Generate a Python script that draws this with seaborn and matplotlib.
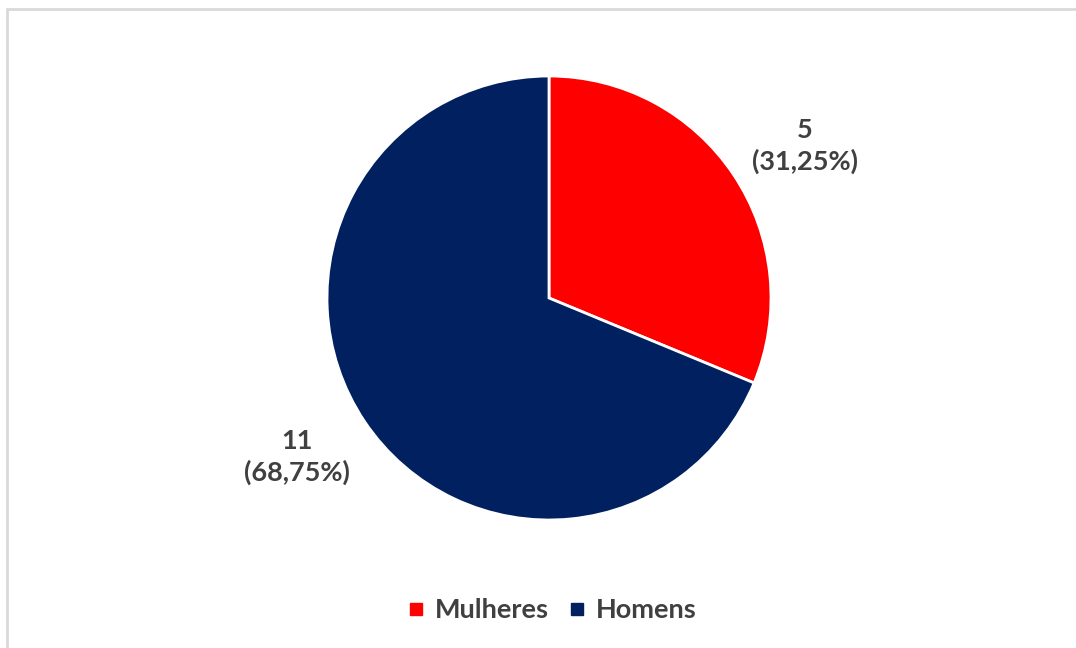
import numpy as np
import matplotlib
matplotlib.use("Agg")
import matplotlib.pyplot as plt
import seaborn as sns
from matplotlib.lines import Line2D

categories = ["Mulheres", "Homens"]
counts = [5, 11]
percent_labels = ["31,25%", "68,75%"]
colors = ["#FF0000", "#002060"]

sns.set_theme(style="white")
plt.rcParams["font.family"] = ["Lato", "DejaVu Sans"]

W, H = 1076, 648
fig = plt.figure(figsize=(W / 100, H / 100), dpi=100)

# light frame along the top and left edges
frame_kw = dict(transform=fig.transFigure, color="#d9d9d9", linewidth=2.0)
fig.lines.append(Line2D([7 / W, 1.0], [1 - 9 / H, 1 - 9 / H], **frame_kw))
fig.lines.append(Line2D([7 / W, 7 / W], [0.0, 1 - 9 / H], **frame_kw))

cx, cy, r = 549, 298, 222
ax = fig.add_axes([(cx - r) / W, (H - cy - r) / H, 2 * r / W, 2 * r / H])

wedges, _ = ax.pie(counts, colors=colors, startangle=90, counterclock=False,
                   radius=1.0, wedgeprops=dict(edgecolor="white", linewidth=2))
ax.set_xlim(-1, 1)
ax.set_ylim(-1, 1)
ax.set_aspect("equal")
ax.axis("off")

# data labels sit just outside each wedge, nudged slightly clockwise
label_dist = 1.34
label_nudge = [-3.0, -1.5]
total = sum(counts)
angle = 90.0
for n, pct, nudge in zip(counts, percent_labels, label_nudge):
    span = 360.0 * n / total
    mid = np.deg2rad(angle - span / 2 + nudge)
    angle -= span
    ax.text(label_dist * np.cos(mid), label_dist * np.sin(mid), f"{n}\n({pct})",
            ha="center", va="center", fontsize=19.5, fontweight="bold",
            color="#404040", linespacing=1.3, clip_on=False)

handles = [Line2D([0], [0], marker="s", linestyle="", markersize=8,
                  markerfacecolor=c, markeredgecolor=c) for c in colors]
leg = fig.legend(handles, categories, loc="center", bbox_to_anchor=(548 / W, 1 - 610 / H),
                 ncol=2, frameon=False, handletextpad=0.1, handlelength=1.2,
                 columnspacing=0.45, prop=dict(weight="bold", size=19.5))
for t in leg.get_texts():
    t.set_color("#404040")

fig.savefig("out.png", dpi=100, facecolor="white")
